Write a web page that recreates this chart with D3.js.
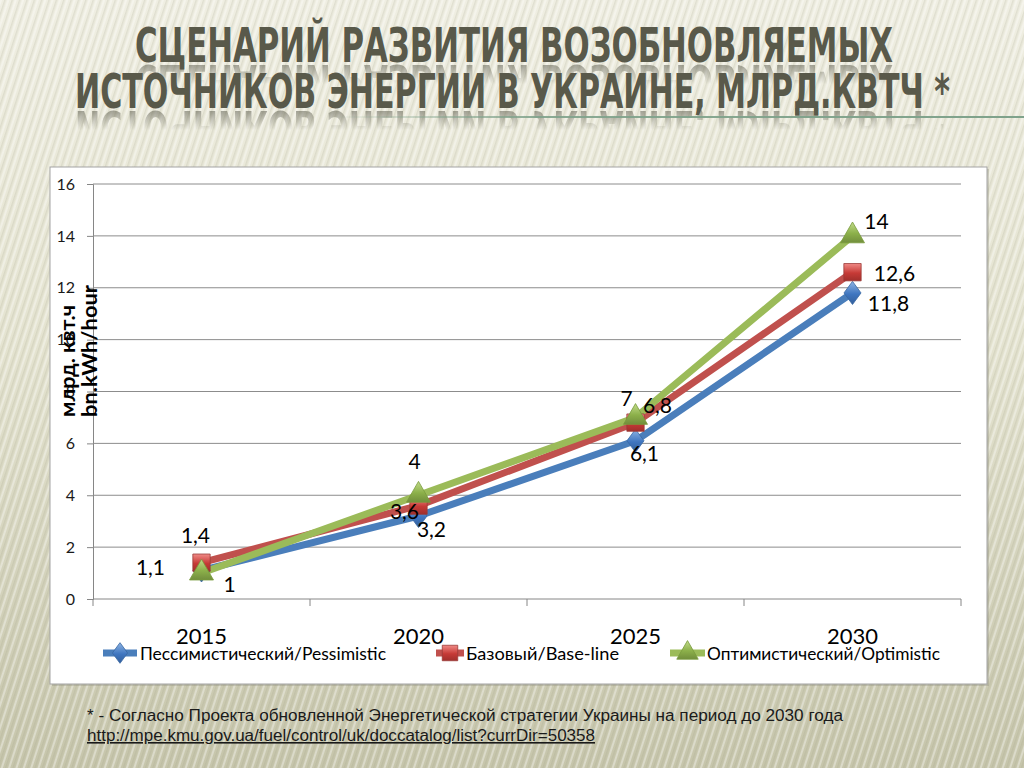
<!DOCTYPE html>
<html>
<head>
<meta charset="utf-8">
<script src="https://cdnjs.cloudflare.com/ajax/libs/d3/7.8.5/d3.min.js"></script>
<style>
  html, body { margin: 0; padding: 0; background: #e6e5d2; }
  svg { display: block; }
</style>
</head>
<body>
<div id="chart"></div>
<script>
// data
var years = ["2015", "2020", "2025", "2030"];
var pessimistic = [1.1, 3.2, 6.1, 11.8];
var baseline = [1.4, 3.6, 6.8, 12.6];
var optimistic = [1, 4, 7, 14];
var seriesNames = ["Пессимистический/Pessimistic", "Базовый/Base-line", "Оптимистический/Optimistic"];
var yTicks = [0, 2, 4, 6, 8, 10, 12, 14, 16];
var titleLines = ["СЦЕНАРИЙ РАЗВИТИЯ ВОЗОБНОВЛЯЕМЫХ", "ИСТОЧНИКОВ ЭНЕРГИИ В УКРАИНЕ, МЛРД.КВТЧ *"];
var yLabelLines = ["млрд. квт.ч", "bn.kWh/hour"];
var footNote = "* - Согласно  Проекта обновленной Энергетической стратегии Украины на период до 2030 года";
var footUrl = "http://mpe.kmu.gov.ua/fuel/control/uk/doccatalog/list?currDir=50358";

// where each value label sits, relative to its marker (px)
var labelNudge = [
  [[-51, -2], [13, 14], [9, 13], [36, 11]],
  [[-6, -27], [-14, 6], [22, -17], [42, 2]],
  [[28, 12], [-4, -33], [-9, -18], [24, -14]]
];

var W = 1024, H = 768;
var svg = d3.select("#chart").append("svg")
  .attr("width", W).attr("height", H);

var defs = svg.append("defs");

// slide background
var bg = defs.append("linearGradient").attr("id", "bg")
  .attr("x1", 0).attr("y1", 0).attr("x2", 0).attr("y2", 1);
bg.append("stop").attr("offset", "0%").attr("stop-color", "#efeee2");
bg.append("stop").attr("offset", "45%").attr("stop-color", "#e4e3d0");
bg.append("stop").attr("offset", "100%").attr("stop-color", "#c6c5ab");

var stripes = defs.append("pattern").attr("id", "stripes")
  .attr("width", 7).attr("height", 7)
  .attr("patternUnits", "userSpaceOnUse")
  .attr("patternTransform", "rotate(18)");
stripes.append("rect").attr("width", 2).attr("height", 7).attr("fill", "#ffffff").attr("opacity", 0.35);
stripes.append("rect").attr("x", 4).attr("width", 1.5).attr("height", 7).attr("fill", "#9c9b80").attr("opacity", 0.18);

svg.append("rect").attr("width", W).attr("height", H).attr("fill", "url(#bg)");
svg.append("rect").attr("width", W).attr("height", H).attr("fill", "url(#stripes)");

// title with a fading reflection
var titleFont = "'Liberation Sans Narrow', 'DejaVu Sans Condensed', 'Liberation Sans', sans-serif";
var titleRows = [
  { text: titleLines[0], x0: 135, x1: 893, base: 62 },
  { text: titleLines[1], x0: 75, x1: 950, base: 108 }
];

titleRows.forEach(function(r, i) {
  var grad = defs.append("linearGradient").attr("id", "fadeG" + i)
    .attr("gradientUnits", "userSpaceOnUse")
    .attr("x1", 0).attr("y1", r.base + 2).attr("x2", 0).attr("y2", r.base + 22);
  grad.append("stop").attr("offset", "0%").attr("stop-color", "#fff").attr("stop-opacity", 0.55);
  grad.append("stop").attr("offset", "100%").attr("stop-color", "#fff").attr("stop-opacity", 0);
  defs.append("mask").attr("id", "fadeM" + i)
    .attr("maskUnits", "userSpaceOnUse")
    .attr("x", 0).attr("y", 0).attr("width", W).attr("height", H)
    .append("rect").attr("x", 0).attr("y", r.base).attr("width", W).attr("height", 30)
    .attr("fill", "url(#fadeG" + i + ")");
});

var titleG = svg.append("g");
titleRows.forEach(function(r, i) {
  titleG.append("g")
    .attr("mask", "url(#fadeM" + i + ")")
    .append("g")
    .attr("transform", "translate(0," + (2 * r.base + 3) + ") scale(1,-1)")
    .append("text")
    .attr("x", r.x0).attr("y", r.base)
    .attr("textLength", r.x1 - r.x0)
    .attr("lengthAdjust", "spacingAndGlyphs")
    .style("font-family", titleFont)
    .style("font-weight", "bold")
    .style("font-size", "48px")
    .attr("fill", "#59594a")
    .text(r.text);
});
titleRows.forEach(function(r) {
  titleG.append("text")
    .attr("x", r.x0).attr("y", r.base)
    .attr("textLength", r.x1 - r.x0)
    .attr("lengthAdjust", "spacingAndGlyphs")
    .style("font-family", titleFont)
    .style("font-weight", "bold")
    .style("font-size", "48px")
    .attr("fill", "#59594a")
    .text(r.text);
});

var ruleGrad = defs.append("linearGradient").attr("id", "rule")
  .attr("x1", 0).attr("y1", 0).attr("x2", 1).attr("y2", 0);
ruleGrad.append("stop").attr("offset", "0%").attr("stop-color", "#7fa28b").attr("stop-opacity", 0);
ruleGrad.append("stop").attr("offset", "30%").attr("stop-color", "#7fa28b").attr("stop-opacity", 0.9);
ruleGrad.append("stop").attr("offset", "100%").attr("stop-color", "#7fa28b").attr("stop-opacity", 1);
svg.append("rect").attr("x", 330).attr("y", 116).attr("width", 694).attr("height", 2)
  .attr("fill", "url(#rule)");

// chart frame
svg.append("rect").attr("x", 52).attr("y", 169).attr("width", 937).attr("height", 517)
  .attr("fill", "#8d8c7a").attr("opacity", 0.35);
svg.append("rect").attr("x", 50).attr("y", 167).attr("width", 937).attr("height", 517)
  .attr("fill", "#ffffff").attr("stroke", "#a3a3a3").attr("stroke-width", 1);

// scales
var x = d3.scaleBand().domain(years).range([93, 961]);
var cx = function(d) { return x(d) + x.bandwidth() / 2; };
var y = d3.scaleLinear().domain([0, 16]).range([599, 184]);

var plot = svg.append("g");

// y axis + gridlines
var yAxis = plot.append("g")
  .attr("transform", "translate(93,0)")
  .call(d3.axisLeft(y).tickValues(yTicks).tickSize(6).tickPadding(12).tickFormat(d3.format("d")));
yAxis.select(".domain").attr("stroke", "#868686");
yAxis.selectAll(".tick line").attr("stroke", "#868686");
yAxis.selectAll(".tick text")
  .style("font-family", "Lato, 'Open Sans', sans-serif")
  .style("font-size", "16px")
  .attr("fill", "#1a1a1a");

plot.append("g").selectAll("line.grid")
  .data(yTicks.filter(function(d) { return d > 0; }))
  .enter().append("line")
  .attr("class", "grid")
  .attr("x1", 93).attr("x2", 961)
  .attr("y1", function(d) { return y(d); })
  .attr("y2", function(d) { return y(d); })
  .attr("stroke", "#8c8c8c").attr("stroke-width", 1);

// x axis: ticks on category boundaries
var xAxis = plot.append("g")
  .attr("transform", "translate(0,599)");
xAxis.append("line").attr("x1", 93).attr("x2", 961).attr("stroke", "#868686");
xAxis.selectAll("line.tk")
  .data(years.concat(["end"]))
  .enter().append("line")
  .attr("class", "tk")
  .attr("x1", function(d, i) { return i < years.length ? x(d) : x.range()[1]; })
  .attr("x2", function(d, i) { return i < years.length ? x(d) : x.range()[1]; })
  .attr("y1", 0).attr("y2", 7)
  .attr("stroke", "#868686");
xAxis.selectAll("text")
  .data(years)
  .enter().append("text")
  .attr("x", cx)
  .attr("y", 45)
  .attr("text-anchor", "middle")
  .style("font-family", "Lato, 'Open Sans', sans-serif")
  .style("font-size", "22px")
  .attr("fill", "#000")
  .text(function(d) { return d; });

// y label (rotated, two lines, drawn over the tick labels like the original)
var yl = svg.append("g").attr("transform", "translate(0,417) rotate(-90)");
var ylLen = [112, 132];
yLabelLines.forEach(function(t, i) {
  yl.append("text")
    .attr("x", 0).attr("y", 75 + i * 22)
    .attr("text-anchor", "start")
    .attr("textLength", ylLen[i])
    .attr("lengthAdjust", "spacingAndGlyphs")
    .style("font-family", "Lato, 'Open Sans', sans-serif")
    .style("font-weight", "bold")
    .style("font-size", "20px")
    .attr("fill", "#000")
    .text(t);
});

// gradients for markers
function markerGrad(id, light, dark) {
  var g = defs.append("linearGradient").attr("id", id)
    .attr("x1", 0).attr("y1", 0).attr("x2", 0).attr("y2", 1);
  g.append("stop").attr("offset", "0%").attr("stop-color", light);
  g.append("stop").attr("offset", "55%").attr("stop-color", dark);
  g.append("stop").attr("offset", "100%").attr("stop-color", d3.color(dark).darker(0.6));
}
markerGrad("gBlue", "#8fb4e3", "#3f76c0");
markerGrad("gRed", "#f08a86", "#c63a36");
markerGrad("gGreen", "#c2dc8a", "#8cb04a");

var series = [
  { name: seriesNames[0], values: pessimistic, color: "#4a7ebb", fill: "url(#gBlue)", stroke: "#3a68a3", shape: d3.symbolDiamond, size: 190 },
  { name: seriesNames[1], values: baseline, color: "#c0504d", fill: "url(#gRed)", stroke: "#9a3b38", shape: d3.symbolSquare, size: 300 },
  { name: seriesNames[2], values: optimistic, color: "#9bbb59", fill: "url(#gGreen)", stroke: "#789a3c", shape: d3.symbolTriangle, size: 250 }
];

var line = d3.line()
  .x(function(d, i) { return cx(years[i]); })
  .y(function(d) { return y(d); });

series.forEach(function(s) {
  plot.append("path")
    .datum(s.values)
    .attr("d", line)
    .attr("fill", "none")
    .attr("stroke", s.color)
    .attr("stroke-width", 7)
    .attr("stroke-linejoin", "round");
});

series.forEach(function(s) {
  plot.append("g").selectAll("path.mk")
    .data(s.values)
    .enter().append("path")
    .attr("class", "mk")
    .attr("transform", function(d, i) {
      var sy = s.shape === d3.symbolDiamond ? " scale(1.15,0.9)" : "";
      return "translate(" + cx(years[i]) + "," + y(d) + ")" + sy;
    })
    .attr("d", d3.symbol().type(s.shape).size(s.size))
    .attr("fill", s.fill)
    .attr("stroke", s.stroke)
    .attr("stroke-width", 0.8);
});

// value labels
var fmt = function(v) { return String(v).replace(".", ","); };
series.forEach(function(s, si) {
  plot.append("g").selectAll("text")
    .data(s.values)
    .enter().append("text")
    .attr("x", function(d, i) { return cx(years[i]) + labelNudge[si][i][0]; })
    .attr("y", function(d, i) { return y(d) + labelNudge[si][i][1] + 7; })
    .attr("text-anchor", "middle")
    .style("font-family", "Lato, 'Open Sans', sans-serif")
    .style("font-size", "21px")
    .attr("fill", "#000")
    .text(fmt);
});

// legend
var legendItems = [
  { x: 103, w: 34, tx: 140, tw: 246 },
  { x: 436, w: 28, tx: 466, tw: 153 },
  { x: 670, w: 35, tx: 707, tw: 233 }
];
var lg = svg.append("g").attr("transform", "translate(0,653)");
series.forEach(function(s, i) {
  var it = legendItems[i];
  lg.append("line")
    .attr("x1", it.x).attr("x2", it.x + it.w)
    .attr("stroke", s.color).attr("stroke-width", 7);
  lg.append("path")
    .attr("transform", "translate(" + (it.x + it.w / 2) + ",0)" + (s.shape === d3.symbolDiamond ? " scale(1.15,0.9)" : ""))
    .attr("d", d3.symbol().type(s.shape).size(s.size * 0.8))
    .attr("fill", s.fill)
    .attr("stroke", s.stroke)
    .attr("stroke-width", 0.8);
  lg.append("text")
    .attr("x", it.tx).attr("y", 7)
    .attr("textLength", it.tw)
    .attr("lengthAdjust", "spacingAndGlyphs")
    .style("font-family", "'Liberation Sans Narrow', Lato, sans-serif")
    .style("font-size", "18px")
    .attr("fill", "#000")
    .text(s.name);
});

// footnote
svg.append("text")
  .attr("x", 87).attr("y", 721)
  .attr("textLength", 756)
  .attr("lengthAdjust", "spacingAndGlyphs")
  .style("font-family", "'Liberation Sans', Arial, sans-serif")
  .style("font-size", "16px")
  .attr("fill", "#1a1a1a")
  .text(footNote);
svg.append("text")
  .attr("x", 87).attr("y", 741)
  .attr("textLength", 508)
  .attr("lengthAdjust", "spacingAndGlyphs")
  .style("font-family", "'Liberation Sans', Arial, sans-serif")
  .style("font-size", "16px")
  .style("text-decoration", "underline")
  .attr("fill", "#1a1a1a")
  .text(footUrl);
</script>
</body>
</html>
